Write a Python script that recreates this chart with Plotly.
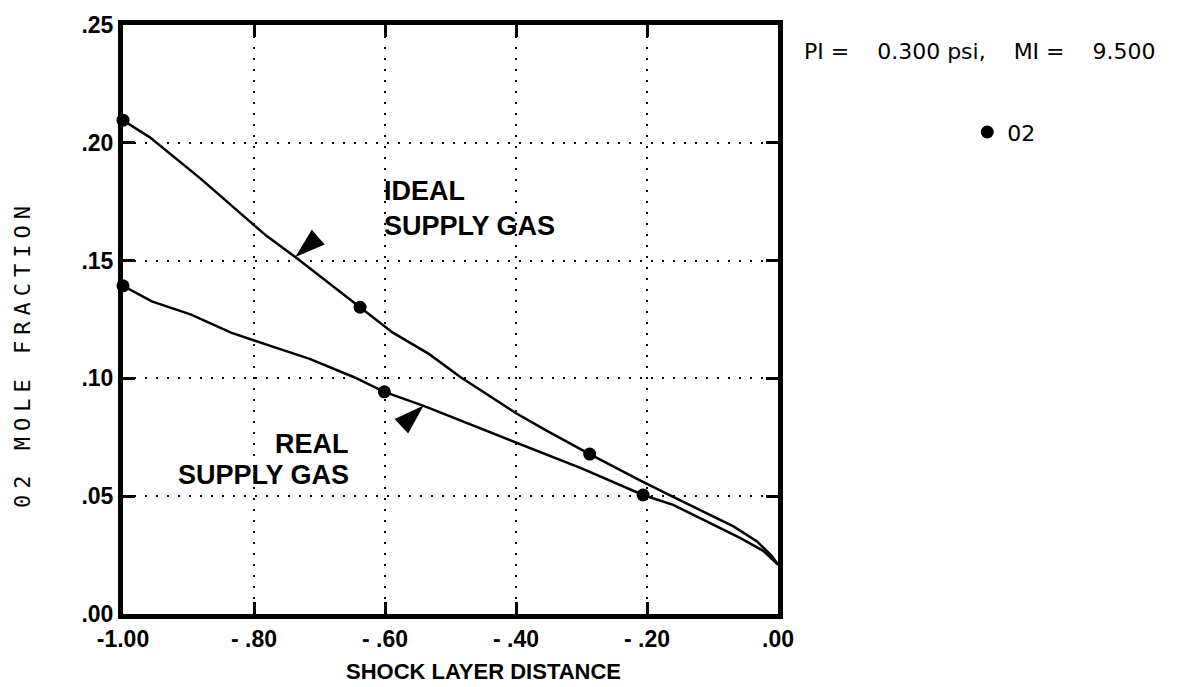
import plotly.graph_objects as go

# ---- data ----
ideal_x = [-1.0, -0.959, -0.882, -0.781, -0.737, -0.638, -0.588, -0.533, -0.485, -0.4005,
           -0.352, -0.2875, -0.2107, -0.160, -0.109, -0.068, -0.0325, -0.0096, 0.0]
ideal_y = [0.2096, 0.2023, 0.1849, 0.1605, 0.1515, 0.1302, 0.1194, 0.1104, 0.1006, 0.0853,
           0.0776, 0.0679, 0.0567, 0.0497, 0.0428, 0.0372, 0.0309, 0.0247, 0.021]

real_x = [-1.0, -0.956, -0.896, -0.835, -0.775, -0.715, -0.648, -0.601, -0.539, -0.443,
          -0.400, -0.298, -0.206, -0.160, -0.109, -0.058, -0.0225, 0.0]
real_y = [0.1393, 0.1327, 0.1271, 0.1194, 0.1138, 0.1083, 0.1006, 0.0943, 0.0881, 0.0776,
          0.0727, 0.0616, 0.0505, 0.0463, 0.0393, 0.0323, 0.0268, 0.021]

ideal_mark_x = [-1.0, -0.638, -0.2875]
ideal_mark_y = [0.2096, 0.1302, 0.0679]
real_mark_x = [-1.0, -0.601, -0.206]
real_mark_y = [0.1393, 0.0943, 0.0505]

pointer_x = [-0.737, -0.541]
pointer_y = [0.1515, 0.0885]
pointer_angle = [229, 47]

x_tick_vals = [-1.0, -0.8, -0.6, -0.4, -0.2, 0.0]
x_tick_text = ["-1.00", "- .80", "- .60", "- .40", "- .20", ".00"]
y_tick_vals = [0.0, 0.05, 0.10, 0.15, 0.20, 0.25]
y_tick_text = [".00", ".05", ".10", ".15", ".20", ".25"]

x_title = "SHOCK LAYER DISTANCE"
y_title = "02 MOLE FRACTION"
legend_header = ("PI =\u00a0\u00a0\u00a0\u00a00.300 psi,\u00a0\u00a0\u00a0\u00a0"
                 "MI =\u00a0\u00a0\u00a0\u00a09.500")
series_name = "02"
ideal_lines = ["IDEAL", "SUPPLY GAS"]
real_lines = ["REAL", "SUPPLY GAS"]

# ---- figure ----
fig = go.Figure()

fig.add_trace(go.Scatter(x=ideal_x, y=ideal_y, mode="lines",
                         line=dict(color="black", width=2.5), showlegend=False,
                         hoverinfo="skip", cliponaxis=False))
fig.add_trace(go.Scatter(x=real_x, y=real_y, mode="lines",
                         line=dict(color="black", width=2.5), showlegend=False,
                         hoverinfo="skip", cliponaxis=False))
fig.add_trace(go.Scatter(x=ideal_mark_x, y=ideal_mark_y, mode="markers", name=series_name,
                         marker=dict(color="black", size=13, symbol="circle"),
                         legendgroup="o2", showlegend=True, cliponaxis=False))
fig.add_trace(go.Scatter(x=real_mark_x, y=real_mark_y, mode="markers", name=series_name,
                         marker=dict(color="black", size=13, symbol="circle"),
                         legendgroup="o2", showlegend=False, cliponaxis=False))
fig.add_trace(go.Scatter(x=pointer_x, y=pointer_y, mode="markers", showlegend=False,
                         marker=dict(color="black", size=32, symbol="arrow",
                                     angle=pointer_angle, line=dict(width=0)),
                         hoverinfo="skip", cliponaxis=False))

tick_font = dict(family="Liberation Sans", size=23, color="black", weight="bold")

fig.update_xaxes(range=[-1.0, 0.0], tickvals=x_tick_vals, ticktext=x_tick_text,
                 showgrid=True, gridcolor="black", gridwidth=2, griddash="2px,9px",
                 showline=True, linewidth=5, linecolor="black", mirror="ticks",
                 ticks="inside", ticklen=12, tickwidth=3, tickcolor="black",
                 zeroline=False, tickfont=tick_font)
fig.update_yaxes(range=[0.0, 0.25], tickvals=y_tick_vals, ticktext=y_tick_text,
                 showgrid=True, gridcolor="black", gridwidth=2, griddash="2px,9px",
                 showline=True, linewidth=5, linecolor="black", mirror="ticks",
                 ticks="inside", ticklen=12, tickwidth=3, tickcolor="black",
                 zeroline=False, tickfont=tick_font)

# axis titles (placed as in the reference, slightly off-centre)
fig.add_annotation(x=0.55, y=-0.097, xref="paper", yref="paper", text=x_title,
                   showarrow=False, xanchor="center", yanchor="middle",
                   font=dict(family="Liberation Sans", size=22, color="black", weight="bold"))
fig.add_annotation(x=-0.1527, y=0.4415, xref="paper", yref="paper",
                   text='<span style="letter-spacing:6px">' + y_title + '</span>',
                   showarrow=False, textangle=-90, xanchor="center", yanchor="middle",
                   font=dict(family="DejaVu Sans Mono", size=22, color="black"))

label_font = dict(family="Liberation Sans", size=27, color="black", weight="bold")
for txt, yy in zip(ideal_lines, [0.1795, 0.1648]):
    fig.add_annotation(x=-0.604, y=yy, xref="x", yref="y", text=txt, showarrow=False,
                       xanchor="left", yanchor="middle", align="left", font=label_font)
for txt, yy in zip(real_lines, [0.0722, 0.0588]):
    fig.add_annotation(x=-0.652, y=yy, xref="x", yref="y", text=txt, showarrow=False,
                       xanchor="right", yanchor="middle", align="right", font=label_font)

fig.add_annotation(x=1.036, y=0.955, xref="paper", yref="paper", text=legend_header,
                   showarrow=False, xanchor="left", yanchor="middle", align="left",
                   font=dict(family="DejaVu Sans", size=22, color="black"))

fig.update_layout(
    width=1200, height=687,
    margin=dict(l=123, r=422, t=16, b=73),
    paper_bgcolor="white", plot_bgcolor="white",
    showlegend=True,
    legend=dict(x=1.289, y=0.818, xanchor="left", yanchor="middle",
                font=dict(family="DejaVu Sans", size=22, color="black"),
                bgcolor="rgba(0,0,0,0)", borderwidth=0),
)

fig.write_html("out.html")
